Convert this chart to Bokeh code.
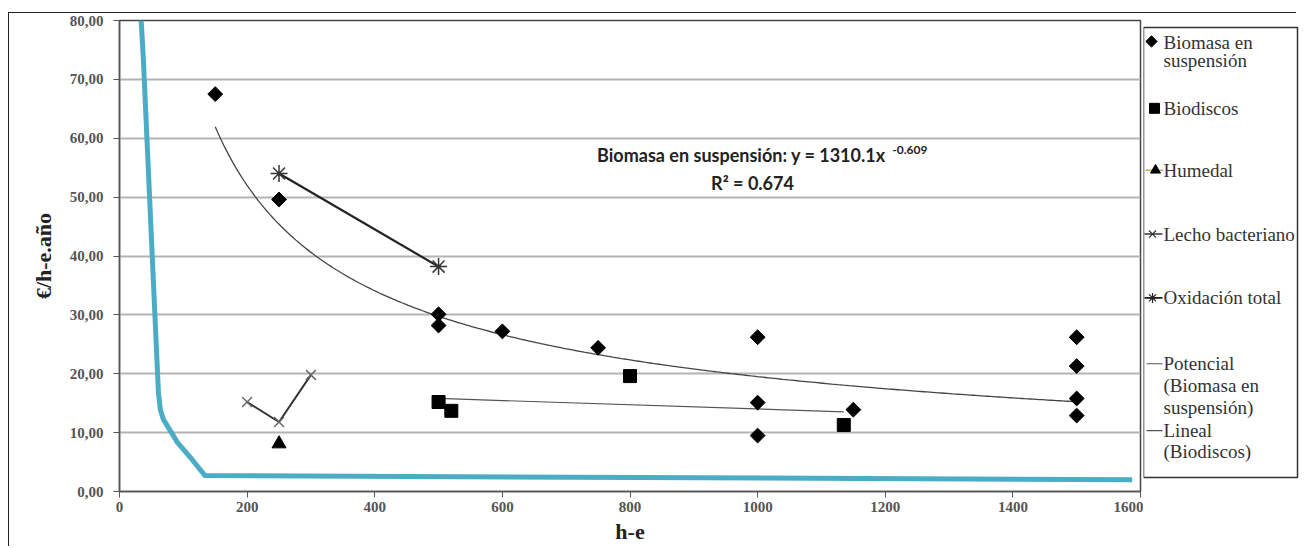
import numpy as np
from bokeh.plotting import figure
from bokeh.models import Label, FixedTicker, Range1d, InlineStyleSheet
from bokeh.layouts import row
from bokeh.embed import file_html
from bokeh.resources import INLINE
from bokeh.core.properties import value

# ---------------- data ----------------
bio_x = [150, 250, 500, 500, 600, 750, 1000, 1000, 1000, 1150, 1500, 1500, 1500, 1500]
bio_y = [67.5, 49.6, 30.1, 28.2, 27.2, 24.4, 26.2, 15.1, 9.5, 13.9, 26.2, 21.3, 15.8, 12.9]
disc_x = [500, 520, 800, 1135]
disc_y = [15.2, 13.7, 19.6, 11.3]
hum_x = [250]
hum_y = [8.1]
lecho_x = [200, 250, 300]
lecho_y = [15.2, 11.8, 19.8]
oxi_x = [250, 500]
oxi_y = [54.0, 38.2]
pow_a = 1310.1
pow_b = -0.609
r2 = 0.674
annot_x = [34, 37.5, 51.6, 61, 64, 69, 91, 114, 134, 1587]
annot_y = [80, 73.2, 39.3, 16.8, 13.9, 12.2, 8.3, 5.4, 2.7, 2.0]
x_ticks = [0, 200, 400, 600, 800, 1000, 1200, 1400, 1600]
y_ticks = [0, 10, 20, 30, 40, 50, 60, 70, 80]
y_tick_labels = ["0,00", "10,00", "20,00", "30,00", "40,00", "50,00", "60,00", "70,00", "80,00"]
legend_labels = [["Biomasa en", "suspensión"], ["Biodiscos"], ["Humedal"], ["Lecho bacteriano"],
                 ["Oxidación total"], ["Potencial", "(Biomasa en", "suspensión)"], ["Lineal", "(Biodiscos)"]]

SERIF = "Liberation Serif"
H = 546
TOP, BOT = 20, 54

p = figure(width=1143, height=H, x_range=Range1d(0, 1600), y_range=Range1d(0, 80),
           output_backend="svg", toolbar_location=None,
           min_border_left=119, min_border_right=3, min_border_top=TOP, min_border_bottom=BOT)
p.background_fill_color = "white"
p.border_fill_color = "white"
p.outline_line_color = "#444444"
p.outline_line_width = 1.5

p.xgrid.grid_line_color = None
p.ygrid.grid_line_color = "#b4b4b4"
p.ygrid.grid_line_width = 2
p.xaxis.ticker = FixedTicker(ticks=x_ticks)
p.yaxis.ticker = FixedTicker(ticks=y_ticks)
p.yaxis.major_label_overrides = {t: l for t, l in zip(y_ticks, y_tick_labels)}
for ax in (p.xaxis[0], p.yaxis[0]):
    ax.axis_line_color = "#555555"
    ax.axis_line_width = 1.5
    ax.major_tick_line_color = "#555555"
    ax.major_tick_out = 6
    ax.major_tick_in = 0
    ax.minor_tick_line_color = None
    ax.major_label_text_font = SERIF
    ax.major_label_text_font_size = "15px"
    ax.major_label_text_color = "#555555"
    ax.major_label_text_font_style = "bold"
    ax.axis_label_text_font = SERIF
    ax.axis_label_text_font_style = "bold"
    ax.axis_label_text_font_size = "22px"
    ax.axis_label_text_color = "#222222"
p.yaxis.axis_label = "€/h-e.año"
p.xaxis.axis_label = "h-e"
p.yaxis.major_label_standoff = 10
p.yaxis.axis_label_standoff = 11
p.xaxis.major_label_standoff = 4
p.xaxis.axis_label_standoff = 4

# trend lines
tx = np.linspace(min(bio_x), max(bio_x), 300)
p.line(tx, pow_a * tx ** pow_b, line_color="#444444", line_width=1.3)
k, c = np.polyfit(disc_x, disc_y, 1)
lx = np.array([min(disc_x), max(disc_x)])
p.line(lx, k * lx + c, line_color="#555555", line_width=1.2)

# series
p.line(lecho_x, lecho_y, line_color="#333333", line_width=2)
p.scatter(lecho_x, lecho_y, marker="x", size=14, line_color="#666666", line_width=1.5)
p.line(oxi_x, oxi_y, line_color="#222222", line_width=2.2)
p.scatter(oxi_x, oxi_y, marker="asterisk", size=17, line_color="#333333", line_width=1.5)
p.scatter(bio_x, bio_y, marker="square", angle=np.pi / 4, size=10.5, fill_color="black", line_color="black")
p.scatter(disc_x, disc_y, marker="square", size=13, fill_color="black", line_color="black")
p.scatter(hum_x, hum_y, marker="triangle", size=14, fill_color="black", line_color="black")

# hand-drawn annotation line
p.line(annot_x, annot_y, line_color="#4bacc6", line_width=5, line_join="round")

# equation
EQ = "Lato"
p.add_layout(Label(x=1208, y=57.1, text="Biomasa en suspensión:  y = 1310.1x", text_align="right",
                   text_baseline="middle", text_font=EQ, text_font_style="bold",
                   text_font_size="18px", text_color="#222222"))
p.add_layout(Label(x=1211, y=58.0, text="-0.609", text_align="left", text_baseline="middle",
                   text_font=EQ, text_font_style="bold", text_font_size="12px", text_color="#222222"))
p.add_layout(Label(x=992, y=52.4, text=f"R² = {r2}", text_align="center", text_baseline="middle",
                   text_font=EQ, text_font_style="bold", text_font_size="18px", text_color="#222222"))

# ---------------- legend panel (coordinates = page pixels) ----------------
lg = figure(width=157, height=H, x_range=Range1d(1143, 1300), y_range=Range1d(H - BOT, TOP),
            output_backend="svg", toolbar_location=None, x_axis_location=None, y_axis_location=None,
            min_border_left=0, min_border_right=0, min_border_top=TOP, min_border_bottom=BOT)
lg.outline_line_color = None
lg.background_fill_color = "white"
lg.border_fill_color = "white"
lg.xgrid.grid_line_color = None
lg.ygrid.grid_line_color = None
lg.quad(left=[1143], right=[1297], top=[27], bottom=[478], fill_color="white",
        line_color="#333333", line_width=1.5)

ys = [[42, 60], [108], [170], [234], [298], [364, 386, 408], [431, 452]]
for labels, yy in zip(legend_labels, ys):
    for t, y in zip(labels, yy):
        lg.text([1163], [y], text=[t], text_font=value(SERIF), text_font_size="19px",
                text_baseline="middle", text_color="#333333")
lg.scatter([1151], [41], marker="square", angle=np.pi / 4, size=8, fill_color="black", line_color="black")
lg.scatter([1154], [108], marker="square", size=10, fill_color="black", line_color="black")
lg.line([1145, 1163], [170, 170], line_color="#b8b860", line_width=1.5)
lg.scatter([1155], [170], marker="triangle", size=10, fill_color="black", line_color="black")
lg.line([1144, 1162], [234, 234], line_color="#333333", line_width=1.5)
lg.scatter([1152], [234], marker="x", size=10, line_color="#333333", line_width=1.2)
lg.line([1144, 1162], [298, 298], line_color="#222222", line_width=1.8)
lg.scatter([1152], [298], marker="asterisk", size=10, line_color="#222222", line_width=1.2)
lg.line([1146, 1162], [364, 364], line_color="#555555", line_width=1.2)
lg.line([1146, 1162], [431, 431], line_color="#555555", line_width=1.2)

frame_css = InlineStyleSheet(css="""
:host { position: relative; }
:host::after { content: ""; position: absolute; left: 8px; top: 12px; right: 4px; bottom: 0px;
  border-top: 1.5px solid #222; border-left: 1.5px solid #222; pointer-events: none; z-index: 10; }
""")
layout = row(p, lg, spacing=0, stylesheets=[frame_css])
open("out.html", "w").write(file_html(layout, INLINE))
